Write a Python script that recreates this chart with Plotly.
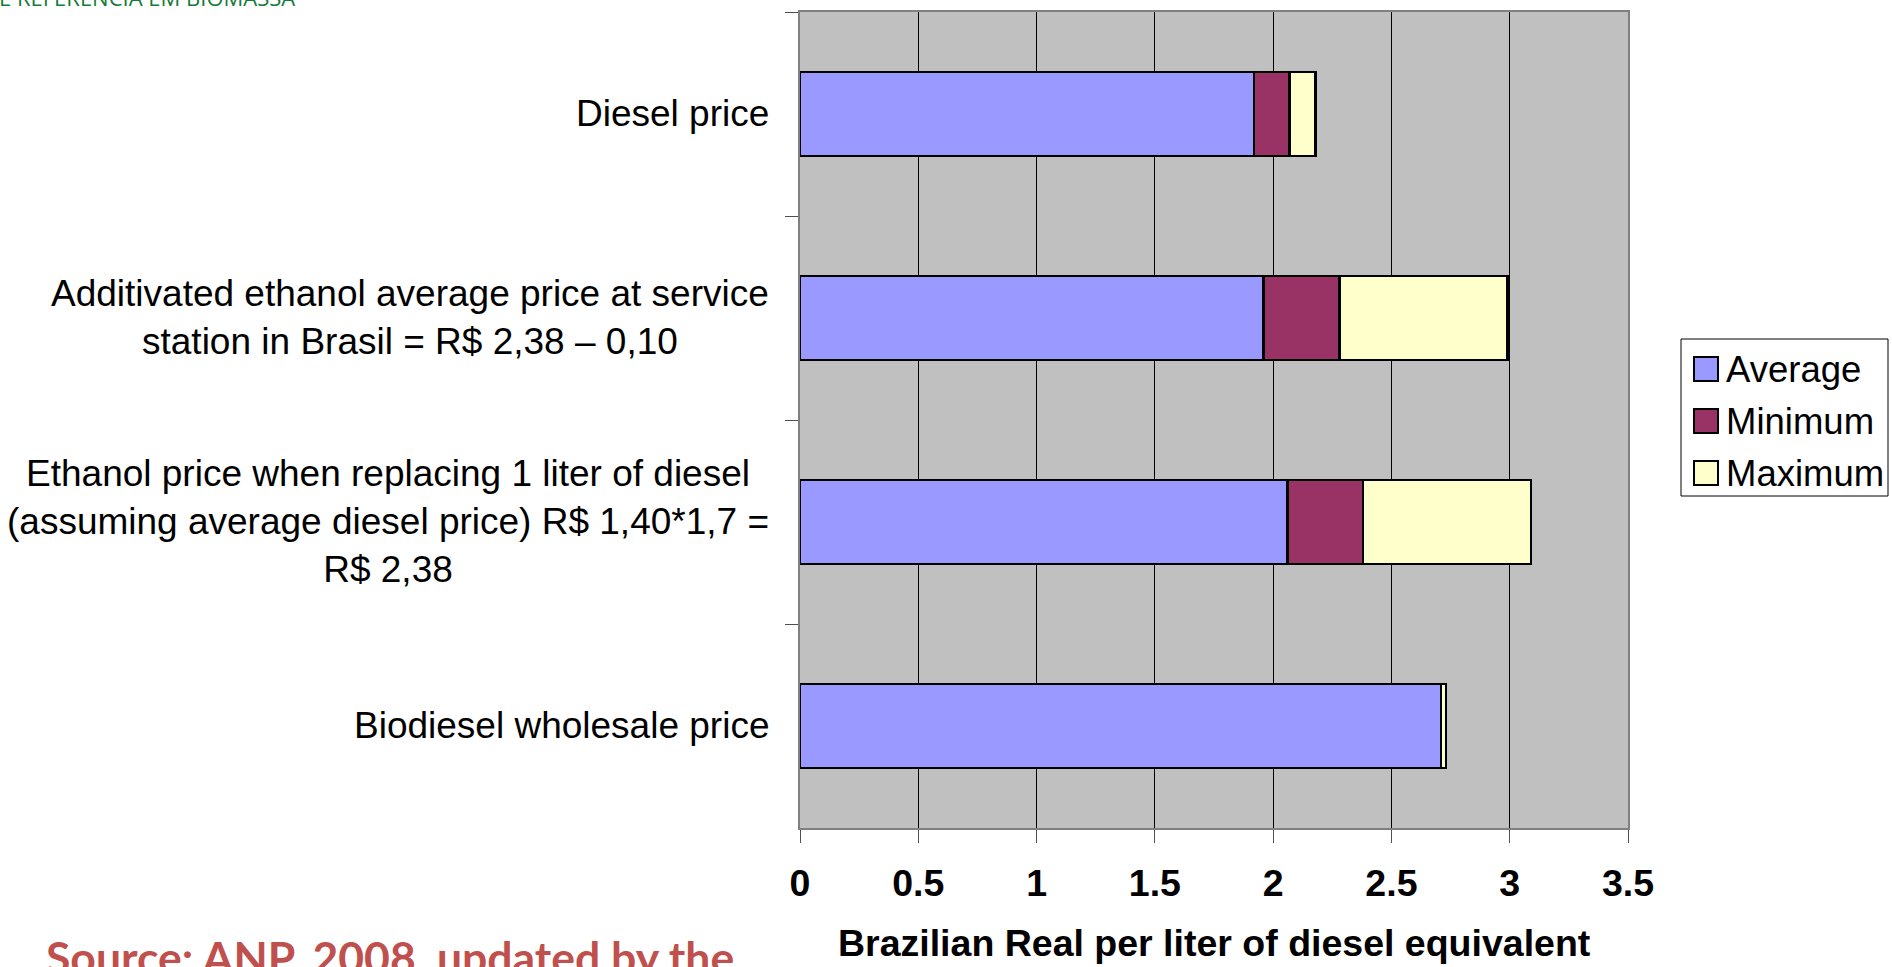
import plotly.graph_objects as go

# Categories (top to bottom) and their multi-line labels
categories = [
    "Diesel price",
    "Additivated ethanol average price at service<br>station in Brasil = R$ 2,38 – 0,10",
    "Ethanol price when replacing 1 liter of diesel<br>(assuming average diesel price) R$ 1,40*1,7 =<br>R$ 2,38",
    "Biodiesel wholesale price",
]

# Stacked segments (R$ per liter of diesel equivalent)
average = [1.92, 1.96, 2.06, 2.71]
minimum = [0.15, 0.32, 0.32, 0.0]
maximum = [0.11, 0.71, 0.71, 0.02]

series_names = ["Average", "Minimum", "Maximum"]
series_colors = ["#9999FF", "#993366", "#FFFFCC"]

x_ticks = [0, 0.5, 1, 1.5, 2, 2.5, 3, 3.5]
x_title = "Brazilian Real per liter of diesel equivalent"

W, H = 1892, 967
L, R, T, B = 800, 1628, 12, 828  # plot area in pixels
FONT = "Liberation Sans, Arial, sans-serif"


def px(x):
    return (x - L) / (R - L)


def py(y):
    return (B - y) / (B - T)


fig = go.Figure()
for name, vals, color in zip(series_names, [average, minimum, maximum], series_colors):
    fig.add_trace(go.Bar(
        y=categories, x=vals, name=name, orientation="h",
        marker=dict(color=color, line=dict(color="#000000", width=2.5)),
        showlegend=False,
    ))

# Category labels, centred line by line, right-aligned to the axis
for cat in categories:
    fig.add_annotation(
        x=0, y=cat, xref="x", yref="y", text=cat, showarrow=False,
        xanchor="right", yanchor="middle", align="center", xshift=-29, yshift=1,
        font=dict(family=FONT, size=37, color="#000000"),
    )

# X axis title
fig.add_annotation(x=0.5, y=py(943), xref="paper", yref="paper",
                   text=f"<b>{x_title}</b>", showarrow=False,
                   xanchor="center", yanchor="middle",
                   font=dict(family=FONT, size=37.5, color="#000000"))

# Legend box
fig.add_shape(type="rect", xref="paper", yref="paper",
              x0=px(1681), x1=px(1888), y0=py(496), y1=py(339),
              line=dict(color="#000000", width=1), fillcolor="#FFFFFF", layer="above")
for i, (name, color) in enumerate(zip(series_names, series_colors)):
    cy = 369 + 52 * i
    fig.add_shape(type="rect", xref="paper", yref="paper",
                  x0=px(1694), x1=px(1718), y0=py(cy + 12), y1=py(cy - 12),
                  line=dict(color="#000000", width=2), fillcolor=color, layer="above")
    fig.add_annotation(x=px(1724), y=py(cy), xref="paper", yref="paper", text=name,
                       showarrow=False, xanchor="left", yanchor="middle",
                       font=dict(family=FONT, size=36.5, color="#000000"))

# Header and source notes
fig.add_annotation(x=px(-3), y=py(14), xref="paper", yref="paper",
                   text="E REFERÊNCIA EM BIOMASSA", showarrow=False,
                   xanchor="left", yanchor="bottom",
                   font=dict(family="Open Sans, sans-serif", size=22, color="#157A3A"))
fig.add_annotation(x=px(44), y=py(928), xref="paper", yref="paper",
                   text="<b>Source: ANP, 2008, updated by the</b>", showarrow=False,
                   xanchor="left", yanchor="top",
                   font=dict(family="Lato, sans-serif", size=44.5, color="#C0504D"))

fig.update_layout(
    width=W, height=H,
    margin=dict(l=L, r=W - R, t=T, b=H - B, pad=0, autoexpand=False),
    barmode="stack", bargap=0.59,
    plot_bgcolor="#C0C0C0", paper_bgcolor="#FFFFFF",
    showlegend=False,
    xaxis=dict(
        range=[0, 3.5], tickvals=x_ticks, ticktext=[f"{v:g}" for v in x_ticks],
        showgrid=True, gridcolor="#000000", gridwidth=1, zeroline=False,
        showline=True, mirror=True, linecolor="#808080", linewidth=2,
        ticks="outside", ticklen=13, tickwidth=1, tickcolor="#505050",
        ticklabelstandoff=8, automargin=False,
        tickfont=dict(family=FONT, size=37.5, color="#000000", weight="bold"),
        fixedrange=True,
    ),
    yaxis=dict(
        categoryorder="array", categoryarray=categories, autorange="reversed",
        showticklabels=False, showgrid=False, zeroline=False,
        showline=True, mirror=True, linecolor="#808080", linewidth=2,
        ticks="outside", tickson="boundaries", ticklen=13, tickwidth=1, tickcolor="#505050",
        automargin=False, fixedrange=True,
    ),
)

fig.write_html("out.html")
